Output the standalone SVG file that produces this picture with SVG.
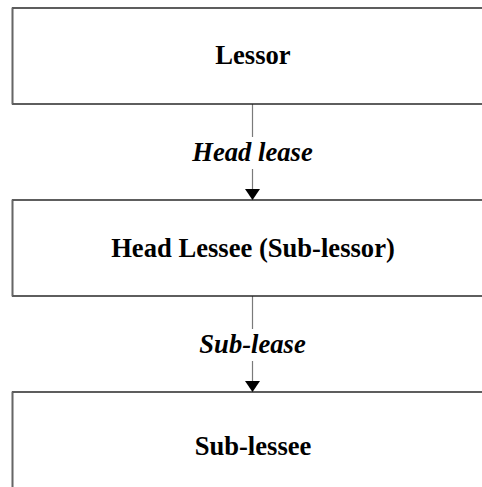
<svg xmlns="http://www.w3.org/2000/svg" width="482" height="487" viewBox="0 0 482 487">
  <defs>
    <style>
      .box { fill: #ffffff; stroke: #1a1a1a; stroke-width: 1.4; }
      .edge { stroke: #666666; stroke-width: 1.6; }
      .name { font-family: "Liberation Serif", "Times New Roman", serif; font-size: 26.6px; font-weight: bold; fill: #000; text-anchor: middle; }
      .rel { font-family: "Liberation Serif", "Times New Roman", serif; font-size: 26.6px; font-weight: bold; font-style: italic; fill: #000; text-anchor: middle; }
      .wire { stroke: #7a7a7a; stroke-width: 1.2; fill: none; }
      .labelbg { fill: #ffffff; }
    </style>
    <marker id="arrow" viewBox="0 0 11 15" refX="11" refY="7.5" markerWidth="11" markerHeight="15" markerUnits="userSpaceOnUse" orient="auto">
      <path d="M0,0 L11,7.5 L0,15 Z" fill="#000"/>
    </marker>
  </defs>

  <rect width="482" height="487" fill="#ffffff"/>

  <!-- connectors -->
  <g id="connectors">
    <g id="head-lease">
      <line class="wire" x1="252.5" y1="104" x2="252.5" y2="200" marker-end="url(#arrow)"/>
      <rect class="labelbg" x="188" y="137" width="129" height="32"/>
      <text class="rel" x="252.5" y="161">Head lease</text>
    </g>
    <g id="sub-lease">
      <line class="wire" x1="252.5" y1="296" x2="252.5" y2="392" marker-end="url(#arrow)"/>
      <rect class="labelbg" x="194" y="329" width="117" height="32"/>
      <text class="rel" x="252.5" y="353">Sub-lease</text>
    </g>
  </g>

  <!-- nodes -->
  <g id="lessor">
    <rect class="box" x="12.5" y="8" width="520" height="96"/>
    <line class="edge" x1="12.5" y1="8" x2="12.5" y2="104"/>
    <text class="name" x="253" y="64">Lessor</text>
  </g>

  <g id="head-lessee">
    <rect class="box" x="12.5" y="200" width="520" height="96"/>
    <line class="edge" x1="12.5" y1="200" x2="12.5" y2="296"/>
    <text class="name" x="253" y="257">Head Lessee (Sub-lessor)</text>
  </g>

  <g id="sub-lessee">
    <rect class="box" x="12.5" y="392" width="520" height="110"/>
    <line class="edge" x1="12.5" y1="392" x2="12.5" y2="490"/>
    <text class="name" x="253" y="455">Sub-lessee</text>
  </g>
</svg>
